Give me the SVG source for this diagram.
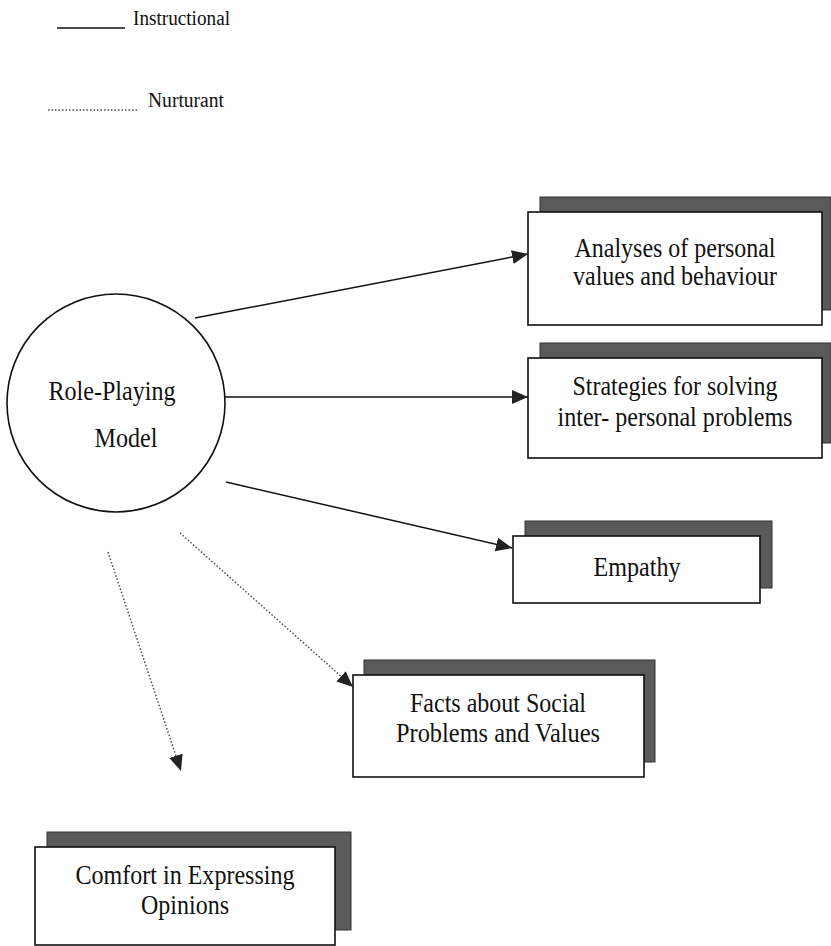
<svg xmlns="http://www.w3.org/2000/svg" width="831" height="946" viewBox="0 0 831 946">
<style>
  text { font-family: "Liberation Serif", "Times New Roman", serif; fill: #111; }
  .lbl { font-size: 27px; text-anchor: middle; }
  .leg { font-size: 20px; }
  .box { fill: #fff; stroke: #111; stroke-width: 1.6; }
  .shadow { fill: #5a5a5a; stroke: #333; stroke-width: 1; }
  .solid { stroke: #111; stroke-width: 1.5; fill: none; }
  .dotted { stroke: #444; stroke-width: 1.4; fill: none; stroke-dasharray: 1.5 2; }
</style>
<defs>
  <marker id="ah" markerUnits="userSpaceOnUse" markerWidth="17" markerHeight="15" refX="16" refY="7" orient="auto">
    <path d="M0,0 L16,7 L0,14 z" fill="#222"/>
  </marker>
</defs>
<rect width="831" height="946" fill="#fff"/>

<g id="legend">
  <line class="solid" x1="57" y1="28" x2="125" y2="28"/>
  <text class="leg" x="133" y="25" textLength="97" lengthAdjust="spacingAndGlyphs">Instructional</text>
  <line class="dotted" x1="48" y1="110" x2="138" y2="110"/>
  <text class="leg" x="148" y="107" textLength="76" lengthAdjust="spacingAndGlyphs">Nurturant</text>
</g>

<g id="connectors">
  <line class="solid" x1="195" y1="318" x2="528" y2="254" marker-end="url(#ah)"/>
  <line class="solid" x1="224" y1="397" x2="528" y2="397" marker-end="url(#ah)"/>
  <line class="solid" x1="226" y1="482" x2="512" y2="548" marker-end="url(#ah)"/>
  <line class="dotted" x1="180" y1="533" x2="353" y2="687" marker-end="url(#ah)"/>
  <line class="dotted" x1="108" y1="552" x2="181" y2="771" marker-end="url(#ah)"/>
</g>

<g id="role-playing-model">
  <circle cx="116" cy="403" r="109" fill="#fff" stroke="#111" stroke-width="1.6"/>
  <text class="lbl" x="112" y="400" textLength="127" lengthAdjust="spacingAndGlyphs">Role-Playing</text>
  <text class="lbl" x="126" y="447" textLength="63" lengthAdjust="spacingAndGlyphs">Model</text>
</g>

<g id="analyses">
  <rect class="shadow" x="540" y="197" width="291" height="113"/>
  <rect class="box" x="528" y="212" width="294" height="113"/>
  <text class="lbl" x="675" y="257" textLength="201" lengthAdjust="spacingAndGlyphs">Analyses of personal</text>
  <text class="lbl" x="675" y="285" textLength="204" lengthAdjust="spacingAndGlyphs">values and behaviour</text>
</g>

<g id="strategies">
  <rect class="shadow" x="540" y="343" width="291" height="100"/>
  <rect class="box" x="528" y="358" width="294" height="100"/>
  <text class="lbl" x="675" y="395" textLength="205" lengthAdjust="spacingAndGlyphs">Strategies for solving</text>
  <text class="lbl" x="675" y="426" textLength="235" lengthAdjust="spacingAndGlyphs">inter- personal problems</text>
</g>

<g id="empathy">
  <rect class="shadow" x="525" y="521" width="247" height="67"/>
  <rect class="box" x="513" y="536" width="247" height="67"/>
  <text class="lbl" x="637" y="576" textLength="87" lengthAdjust="spacingAndGlyphs">Empathy</text>
</g>

<g id="facts">
  <rect class="shadow" x="364" y="660" width="291" height="102"/>
  <rect class="box" x="353" y="675" width="291" height="102"/>
  <text class="lbl" x="498" y="712" textLength="176" lengthAdjust="spacingAndGlyphs">Facts about Social</text>
  <text class="lbl" x="498" y="742" textLength="204" lengthAdjust="spacingAndGlyphs">Problems and Values</text>
</g>

<g id="comfort">
  <rect class="shadow" x="47" y="832" width="304" height="98"/>
  <rect class="box" x="35" y="847" width="300" height="98"/>
  <text class="lbl" x="185" y="884" textLength="219" lengthAdjust="spacingAndGlyphs">Comfort in Expressing</text>
  <text class="lbl" x="185" y="914" textLength="88" lengthAdjust="spacingAndGlyphs">Opinions</text>
</g>
</svg>
